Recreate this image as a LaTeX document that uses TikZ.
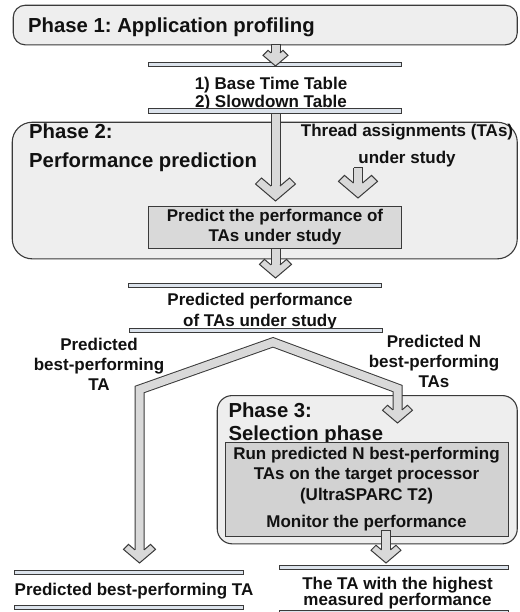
\documentclass[tikz,border=0pt]{standalone}
\usepackage{fontspec}
\setmainfont{Liberation Sans}
\usetikzlibrary{calc}
\frenchspacing
\definecolor{edge}{HTML}{3A3A3A}
\definecolor{phasefill}{HTML}{EEEEEE}
\definecolor{boxfill}{HTML}{D9D9D9}
\definecolor{runfill}{HTML}{D2D2D2}
\definecolor{arrowfill}{HTML}{D9D9D9}
\definecolor{barfill}{HTML}{DCE3EC}
\definecolor{txt}{HTML}{111111}
% block-arrow head: #1 tip coordinate, #2 half head width, #3 head thickness
\newcommand{\blkhead}[3]{%
  \filldraw[headst] ($(#1)+(-4.5,{-(1.85*#3+3.825)})$) -- ($(#1)+({-#2+#3},{-0.85*#2-#3})$) -- ($(#1)+({-#2},{-0.85*#2})$) -- (#1) -- ($(#1)+({#2},{-0.85*#2})$) -- ($(#1)+({#2-#3},{-0.85*#2-#3})$) -- ($(#1)+(4.5,{-(1.85*#3+3.825)})$);}
% straight block arrow: #1 start, #2 tip, #3 half head width, #4 head thickness
\newcommand{\blkarrow}[4]{%
  \draw[shaftst] (#1) -- ($(#2)+(0,{-(1.85*#4+3.825)})$);
  \draw[capst] ($(#1)+(-4.5,0)$) -- ($(#1)+(4.5,0)$);
  \blkhead{#2}{#3}{#4}}
\begin{document}
\begin{tikzpicture}[x=1pt,y=-1pt,
  phasebox/.style={draw=edge, fill=phasefill, line width=1.1pt, anchor=north west, inner sep=0pt},
  runbox/.style={draw=edge, line width=1pt, inner sep=0pt},
  ttl/.style={font=\fontsize{20.3}{#1}\selectfont\bfseries, text=txt, inner sep=0pt, align=left, anchor=north west},
  ttl/.default=24,
  lbl/.style={font=\fontsize{17}{#1}\selectfont\bfseries, text=txt, inner sep=0pt, align=center},
  lbl/.default=20,
  bar/.style={draw=edge, fill=barfill, line width=0.9pt},
  shaftst/.style={draw=edge, line width=1pt, double=arrowfill, double distance=8pt, line join=miter},
  capst/.style={draw=edge, line width=1pt},
  headst/.style={draw=edge, fill=arrowfill, line width=1pt, line join=miter}]
\useasboundingbox (0,0) rectangle (519,612);
\fill[white] (0,0) rectangle (519,612);

% phase boxes
\node[phasebox, rounded corners=12pt, minimum width=504pt, minimum height=39.6pt] (p1) at (12.7,4.7) {};
\node[phasebox, rounded corners=20pt, minimum width=505pt, minimum height=136.6pt] (p2) at (11.7,121.7) {};
\node[phasebox, rounded corners=15pt, minimum width=300pt, minimum height=148.3pt] (p3) at (216.7,395) {};

% titles
\node[ttl] (p1t) at (28,17.7) {Phase 1: Application profiling};
\node[ttl=29] (p2t) at (29,123.5) {Phase 2:\\Performance prediction};
\node[ttl=22.5] (p3t) at (228.3,402.7) {Phase 3:\\Selection phase};

% inner boxes
\node[runbox, fill=boxfill, lbl=20, minimum width=253.5pt, minimum height=41.5pt] (pred) at (275,227.5) {Predict the performance of\\TAs under study};
\node[runbox, fill=runfill, lbl=20.7, minimum width=283pt, minimum height=94pt] (run) at (366.5,489) {Run predicted N best-performing\\TAs on the target processor\\(UltraSPARC T2)\\[6.5pt]Monitor the performance};

% labels
\node[lbl=18.5, anchor=north] (tables) at (271,76.5) {1) Base Time Table\\2) Slowdown Table};
\node[lbl=26.5, anchor=north] (thr) at (407,124) {Thread assignments (TAs)\\under study};
\node[lbl=21, anchor=north] (pp) at (260,293.3) {Predicted performance\\of TAs under study};
\node[lbl=20, anchor=north] (pbl) at (99,338.3) {Predicted\\best-performing\\TA};
\node[lbl=20, anchor=north] (pbn) at (434,335) {Predicted N\\best-performing\\TAs};
\node[lbl, anchor=north] (res1) at (134,583.3) {Predicted best-performing TA};
\node[lbl=16.5, anchor=north] (res2) at (397.5,576.7) {The TA with the highest\\measured performance};

% table bars
\draw[bar] (148,62.3) rectangle (401,66.7);
\draw[bar] (148,108.5) rectangle (401,113.3);
\draw[bar] (128.5,283) rectangle (381.5,287.3);
\draw[bar] (129.5,328.3) rectangle (382,332.7);
\draw[bar] (14,570) rectangle (243,574.5);
\draw[bar] (14,605) rectangle (243,609.3);
\draw[bar] (279,565) rectangle (508,569.5);
\draw[bar] (279,610) rectangle (508,616);

% arrow end points
\coordinate (a1s) at (275.5,44.5);
\coordinate (a1t) at (275.5,66);
\coordinate (a2s) at (275.5,113.3);
\coordinate (a2t) at (275.5,201);
\coordinate (a3s) at (358,168);
\coordinate (a3t) at (358,198);
\coordinate (a4s) at (275.5,248.3);
\coordinate (a4t) at (275.5,278);
\coordinate (a5s) at (386,530);
\coordinate (a5t) at (386,563);
\coordinate (apex) at (273,342.3);
\coordinate (forkL) at (139.5,389.5);
\coordinate (forkR) at (397.5,388.5);
\coordinate (ftL) at (139.5,563);
\coordinate (ftR) at (397.5,423);

% arrows
\blkarrow{a1s}{a1t}{12.5}{5}
\blkarrow{a2s}{a2t}{20}{6}
\blkarrow{a3s}{a3t}{19.5}{6}
\blkarrow{a4s}{a4t}{16}{5}
\blkarrow{a5s}{a5t}{15}{5}
\draw[shaftst] ($(ftL)+(0,-13.075)$) -- (forkL) -- (apex) -- (forkR) -- ($(ftR)+(0,-13.075)$);
\blkhead{ftL}{16}{5}
\blkhead{ftR}{15}{5}
\end{tikzpicture}
\end{document}
